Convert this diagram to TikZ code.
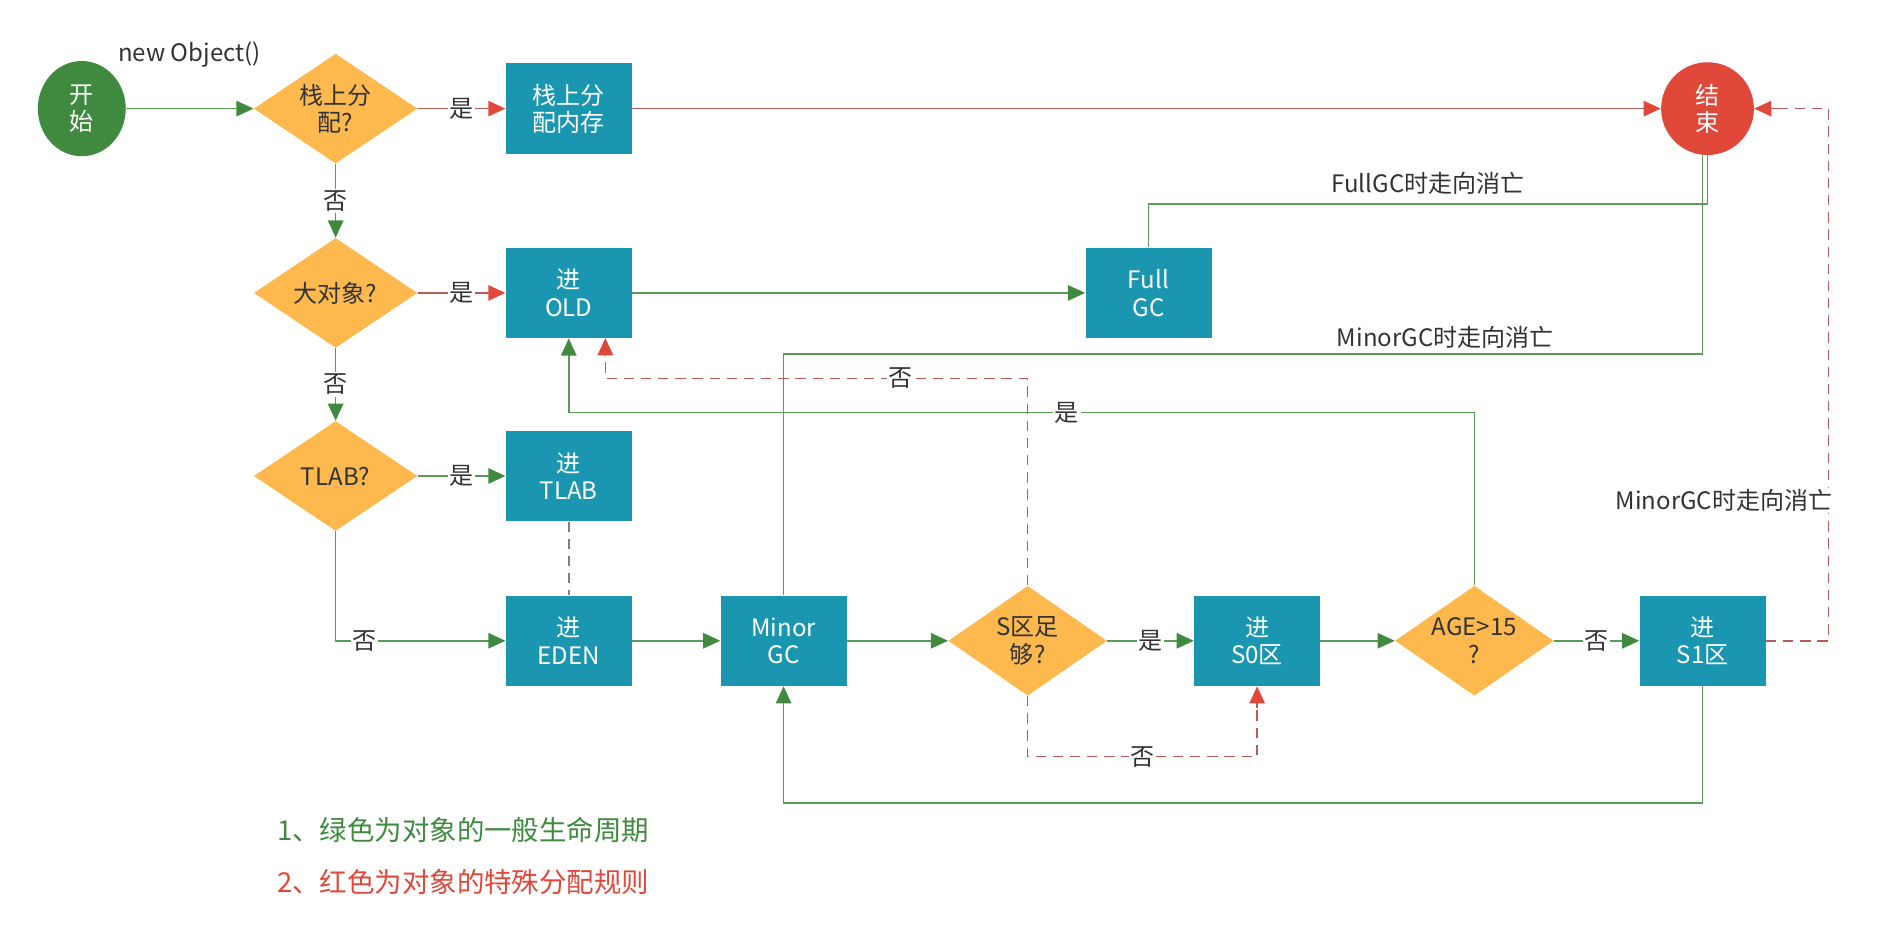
\documentclass[tikz,border=0pt]{standalone}
\usepackage{fontspec}
\setmainfont{Noto Sans CJK SC}
\usetikzlibrary{shapes.geometric,arrows.meta}
\definecolor{gr}{HTML}{3F8A3F}
\definecolor{grl}{HTML}{5A9A5A}
\definecolor{rd}{HTML}{E0483A}
\definecolor{rdl}{HTML}{B85A5A}
\definecolor{teal}{HTML}{1A96B0}
\definecolor{yel}{HTML}{FDB84E}
\definecolor{txt}{HTML}{333333}
\begin{document}
\begin{tikzpicture}[x=0.025cm,y=-0.025cm,
 font=\fontsize{14pt}{16pt}\selectfont,
 box/.style={fill=teal,text=white,minimum width=2.58cm,minimum height=1.85cm,align=center,inner sep=0},
 dia/.style={diamond,fill=yel,text=txt,minimum width=3.35cm,minimum height=2.25cm,aspect=1.5,align=center,inner sep=0},
 gline/.style={draw=grl,line width=0.9pt},
 garr/.style={gline,-{Triangle[length=10pt,width=9pt,color=gr]}},
 rline/.style={draw=rdl,line width=0.9pt},
 rarr/.style={rline,-{Triangle[length=10pt,width=9pt,color=rd]}},
 rdash/.style={draw=rdl,line width=0.9pt,dash pattern=on 6pt off 4pt},
 lab/.style={fill=white,text=txt,inner sep=1pt},
 plain/.style={text=txt,inner sep=1pt}]
\useasboundingbox (0,0) rectangle (1560,770);
\node[ellipse,fill=gr,text=white,minimum width=1.8cm,minimum height=1.95cm,align=center,inner sep=0] (start) at (67,89) {开\\始};
\node[ellipse,fill=rd,text=white,minimum width=1.9cm,minimum height=1.9cm,align=center,inner sep=0] (end) at (1399,89) {结\\束};
\node[plain,anchor=west] (newobj) at (95,45) {new Object()};
\node[dia] (d1) at (275,89) {栈上分\\配?};
\node[box] (b1) at (466,89) {栈上分\\配内存};
\node[dia] (d2) at (275,240) {大对象?};
\node[box] (old) at (466,240) {进\\OLD};
\node[dia] (d3) at (275,390) {TLAB?};
\node[box] (tlab) at (466,390) {进\\TLAB};
\node[box] (eden) at (466,525) {进\\EDEN};
\node[box] (minor) at (642,525) {Minor\\GC};
\node[dia,minimum width=3.25cm] (d4) at (842,525) {S区足\\够?};
\node[box] (s0) at (1030,525) {进\\S0区};
\node[dia,minimum width=3.25cm] (d5) at (1208,525) {AGE>15\\?};
\node[box] (s1) at (1395,525) {进\\S1区};
\node[box] (full) at (941,240) {Full\\GC};

\draw[garr] (start) -- (d1);
\draw[rarr] (d1) -- node[lab]{是} (b1);
\draw[rarr] (b1) -- (end);
\draw[garr] (d1) -- node[lab]{否} (d2);
\draw[rarr] (d2) -- node[lab]{是} (old);
\draw[garr] (old) -- (full);
\draw[gline] (full.north) -- (941,167) -- node[plain,above=4pt,pos=0.5]{FullGC时走向消亡} (1399,167) -- (end.south);
\draw[gline] (minor.north) -- (642,290) -- node[plain,above=2pt,pos=0.72]{MinorGC时走向消亡} (1395,290) -- (1395,127);
\draw[garr] (d2) -- node[lab]{否} (d3);
\draw[garr] (d3) -- node[lab]{是} (tlab);
\draw[draw=gray,line width=0.9pt,dash pattern=on 6pt off 4pt] (tlab) -- (eden);
\draw[garr] (d3.south) -- (275,525) -- node[lab,pos=0.17]{否} (eden.west);
\draw[garr] (eden) -- (minor);
\draw[garr] (minor) -- (d4);
\draw[rdash] (d4.north) -- (842,310) -- node[lab,pos=0.3]{否} (496,310) -- (496,290);
\draw[rarr] (496,292) -- (496,277);
\draw[garr] (d4) -- node[lab]{是} (s0);
\draw[rdash] (d4.south) -- (842,620) -- node[lab]{否} (1030,620) -- (1030,578);
\draw[rarr] (1030,580) -- (s0.south);
\draw[garr] (s0) -- (d5);
\draw[garr] (d5.north) -- (1208,338) -- node[lab,pos=0.45]{是} (466,338) -- (old.south);
\draw[garr] (d5) -- node[lab]{否} (s1);
\draw[rdash] (s1.east) -- (1498,525) -- (1498,89) -- (1460,89);
\draw[rarr] (1462,89) -- (end.east);
\node[plain,fill=white,anchor=east] (mlab) at (1503,410) {MinorGC时走向消亡};
\draw[garr] (s1.south) -- (1395,658) -- (642,658) -- (minor.south);
\node[text=gr,anchor=west,font=\fontsize{16pt}{18pt}\selectfont] (l1) at (222,680) {1、绿色为对象的一般生命周期};
\node[text=rd,anchor=west,font=\fontsize{16pt}{18pt}\selectfont] (l2) at (222,723) {2、红色为对象的特殊分配规则};
\end{tikzpicture}
\end{document}
